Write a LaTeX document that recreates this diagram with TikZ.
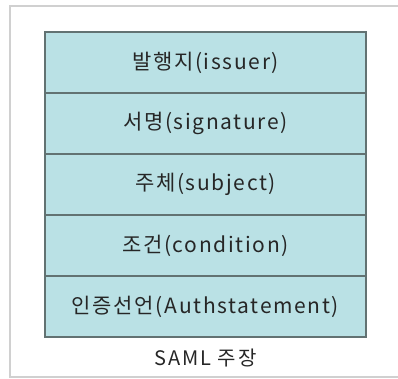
\documentclass[tikz,border=0pt]{standalone}
\usepackage{fontspec}
\setmainfont{Noto Sans CJK KR}
\usetikzlibrary{positioning}

\definecolor{fieldfill}{RGB}{186,225,229}
\definecolor{fieldline}{RGB}{98,114,114}
\definecolor{framegray}{RGB}{208,208,208}

\begin{document}
\begin{tikzpicture}[x=1pt,y=1pt,node distance=61pt,on grid,
    field/.style={draw=fieldline,fill=fieldfill,line width=1.3pt,
      minimum width=321pt,minimum height=61pt,inner sep=0pt,
      text=black!85,font=\fontsize{21}{24}\selectfont\addfontfeatures{LetterSpace=8}}]
    \useasboundingbox (0,0) rectangle (398,378);

    % outer frame (open on the right)
    \draw[framegray,line width=2pt] (398,371.5) -- (9.5,371.5) -- (9.5,1.5) -- (398,1.5);

    \node[field] (issuer) at (205.5,315.5) {발행지(issuer)};
    \node[field] (sig)   [below=of issuer] {서명(signature)};
    \node[field] (subj)  [below=of sig]    {주체(subject)};
    \node[field] (cond)  [below=of subj]   {조건(condition)};
    \node[field] (auth)  [below=of cond]   {인증선언(Authstatement)};

    \node[text=black!85,font=\fontsize{20}{24}\selectfont\addfontfeatures{LetterSpace=10},
      inner sep=0pt,anchor=center] (title) at ([yshift=-20pt]auth.south) {SAML 주장};

\end{tikzpicture}
\end{document}
